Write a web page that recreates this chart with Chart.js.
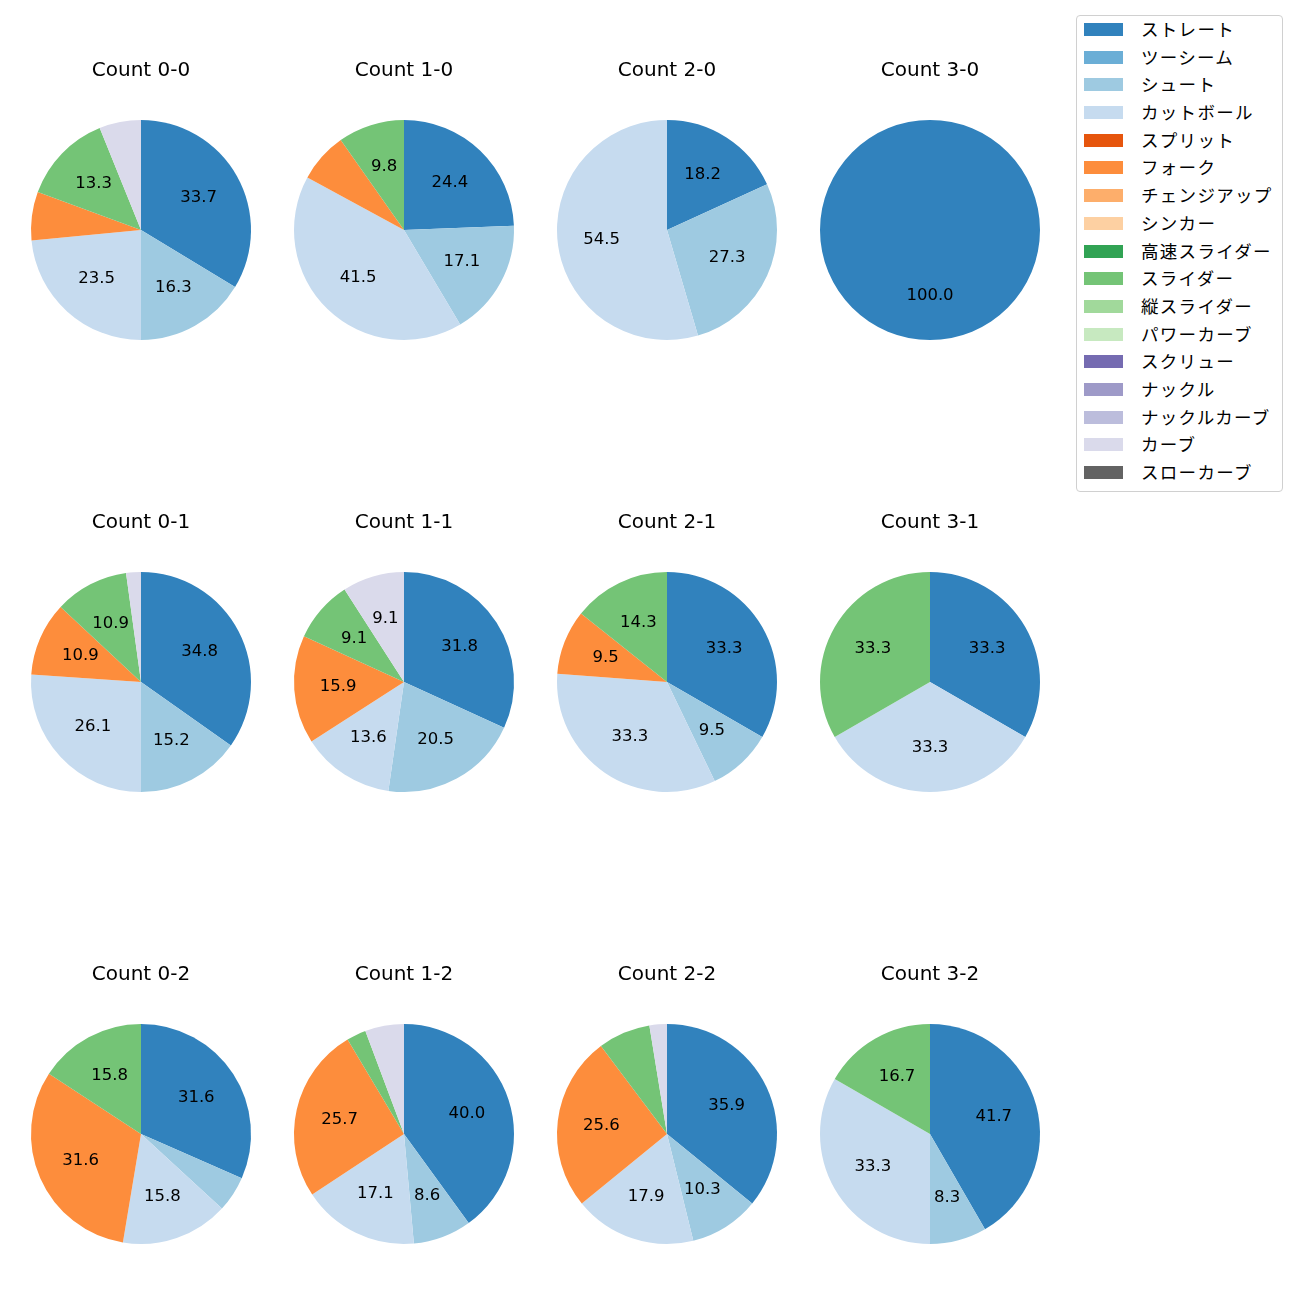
<!DOCTYPE html>
<html>
<head>
<meta charset="utf-8">
<script src="https://cdn.jsdelivr.net/npm/chart.js@4.4.1/dist/chart.umd.min.js"></script>
<style>
  body { margin: 0; background: #fff; }
  #wrap { position: relative; width: 1300px; height: 1300px; font-family: "Noto Sans CJK JP", sans-serif; }
  canvas { position: absolute; }
  #legend {
    position: absolute; left: 1076px; top: 15px; width: 207px; height: 477px;
    border: 1px solid #d0d0d0; border-radius: 4px; box-sizing: border-box;
    padding-top: 0px;
  }
  .item { position: relative; height: 27.7px; font-size: 17.5px; color: #000; }
  .item .sw { position: absolute; left: 7px; top: 7px; width: 39px; height: 13px; }
  .item .tx { position: absolute; left: 64px; top: 0px; line-height: 25px; letter-spacing: 1.3px; }
</style>
</head>
<body>
<div id="wrap"><div id="legend"></div></div>
<script>
const pitchTypes = ['ストレート', 'ツーシーム', 'シュート', 'カットボール', 'スプリット', 'フォーク',
  'チェンジアップ', 'シンカー', '高速スライダー', 'スライダー', '縦スライダー', 'パワーカーブ',
  'スクリュー', 'ナックル', 'ナックルカーブ', 'カーブ', 'スローカーブ'];
const pitchColors = ['#3182bd', '#6baed6', '#9ecae1', '#c6dbef', '#e6550d', '#fd8d3c',
  '#fdae6b', '#fdd0a2', '#31a354', '#74c476', '#a1d99b', '#c7e9c0',
  '#756bb1', '#9e9ac8', '#bcbddc', '#dadaeb', '#636363'];

const countTitles = ['Count 0-0', 'Count 1-0', 'Count 2-0', 'Count 3-0',
  'Count 0-1', 'Count 1-1', 'Count 2-1', 'Count 3-1',
  'Count 0-2', 'Count 1-2', 'Count 2-2', 'Count 3-2'];

// pitches per count, same order as pitchTypes
const c00 = [33, 0, 16, 23, 0, 7, 0, 0, 0, 13, 0, 0, 0, 0, 0, 6, 0];
const c10 = [10, 0, 7, 17, 0, 3, 0, 0, 0, 4, 0, 0, 0, 0, 0, 0, 0];
const c20 = [2, 0, 3, 6, 0, 0, 0, 0, 0, 0, 0, 0, 0, 0, 0, 0, 0];
const c30 = [1, 0, 0, 0, 0, 0, 0, 0, 0, 0, 0, 0, 0, 0, 0, 0, 0];
const c01 = [16, 0, 7, 12, 0, 5, 0, 0, 0, 5, 0, 0, 0, 0, 0, 1, 0];
const c11 = [14, 0, 9, 6, 0, 7, 0, 0, 0, 4, 0, 0, 0, 0, 0, 4, 0];
const c21 = [7, 0, 2, 7, 0, 2, 0, 0, 0, 3, 0, 0, 0, 0, 0, 0, 0];
const c31 = [1, 0, 0, 1, 0, 0, 0, 0, 0, 1, 0, 0, 0, 0, 0, 0, 0];
const c02 = [6, 0, 1, 3, 0, 6, 0, 0, 0, 3, 0, 0, 0, 0, 0, 0, 0];
const c12 = [14, 0, 3, 6, 0, 9, 0, 0, 0, 1, 0, 0, 0, 0, 0, 2, 0];
const c22 = [14, 0, 4, 7, 0, 10, 0, 0, 0, 3, 0, 0, 0, 0, 0, 1, 0];
const c32 = [5, 0, 1, 4, 0, 0, 0, 0, 0, 2, 0, 0, 0, 0, 0, 0, 0];
const countData = [c00, c10, c20, c30, c01, c11, c21, c31, c02, c12, c22, c32];

const colX = [141, 404, 667, 930];
const rowY = [230, 682, 1134];

// percentage text at 0.6 of the radius, hidden for small slices
const pctLabels = {
  id: 'pctLabels',
  afterDatasetsDraw(chart) {
    const ctx = chart.ctx;
    const vals = chart.data.datasets[0].data;
    const total = vals.reduce((a, b) => a + b, 0);
    ctx.save();
    ctx.font = '16.5px "DejaVu Sans", sans-serif';
    ctx.fillStyle = '#000';
    ctx.textAlign = 'center';
    ctx.textBaseline = 'middle';
    chart.getDatasetMeta(0).data.forEach((arc, i) => {
      const pct = vals[i] / total * 100;
      if (pct < 8) return;
      const mid = (arc.startAngle + arc.endAngle) / 2;
      const r = arc.outerRadius * 0.6;
      ctx.fillText(pct.toFixed(1), arc.x + Math.cos(mid) * r, arc.y + Math.sin(mid) * r);
    });
    ctx.restore();
  }
};

const wrap = document.getElementById('wrap');
countData.forEach((vals, k) => {
  const cx = colX[k % 4], cy = rowY[Math.floor(k / 4)];
  const cv = document.createElement('canvas');
  cv.width = 260; cv.height = 310;
  cv.style.left = (cx - 130) + 'px';
  cv.style.top = (cy - 180) + 'px';
  wrap.appendChild(cv);
  new Chart(cv, {
    type: 'pie',
    data: {
      labels: pitchTypes,
      datasets: [{ data: vals, backgroundColor: pitchColors, borderWidth: 0 }]
    },
    options: {
      responsive: false,
      animation: false,
      devicePixelRatio: 1,
      events: [],
      layout: { padding: { left: 20, right: 20, top: 0, bottom: 20 } },
      plugins: {
        legend: { display: false },
        tooltip: { enabled: false },
        title: {
          display: true,
          text: countTitles[k],
          color: '#000',
          font: { family: '"DejaVu Sans", sans-serif', size: 20, weight: 'normal', lineHeight: 1.2 },
          padding: { top: 9, bottom: 37 }
        }
      }
    },
    plugins: [pctLabels]
  });
});

const legend = document.getElementById('legend');
pitchTypes.forEach((name, i) => {
  const row = document.createElement('div');
  row.className = 'item';
  row.innerHTML = '<span class="sw" style="background:' + pitchColors[i] + '"></span><span class="tx">' + name + '</span>';
  legend.appendChild(row);
});
</script>
</body>
</html>
